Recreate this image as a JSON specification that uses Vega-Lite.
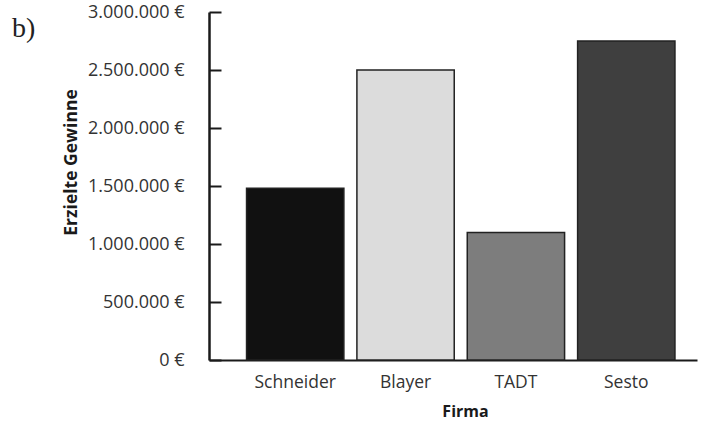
{
  "$schema": "https://vega.github.io/schema/vega-lite/v6.json",
  "width": 488,
  "height": 348,
  "autosize": {"type": "none"},
  "padding": {"left": 209, "top": 12, "right": 5, "bottom": 61},
  "background": "white",
  "title": {
    "text": "b)",
    "anchor": "start",
    "frame": "group",
    "orient": "top",
    "font": "Liberation Serif",
    "fontSize": 28,
    "fontWeight": "normal",
    "color": "#222222",
    "baseline": "alphabetic",
    "offset": 0,
    "dx": -197,
    "dy": 62
  },
  "config": {
    "locale": {
      "number": {
        "decimal": ",",
        "thousands": ".",
        "grouping": [3],
        "currency": ["", " €"]
      }
    },
    "view": {"stroke": null},
    "axis": {
      "labelFont": "Open Sans",
      "titleFont": "Open Sans",
      "labelColor": "#333333",
      "titleColor": "#1a1a1a",
      "grid": false
    }
  },
  "data": {
    "values": [
      {"Firma": "Schneider", "Gewinn": 1480000},
      {"Firma": "Blayer", "Gewinn": 2500000},
      {"Firma": "TADT", "Gewinn": 1100000},
      {"Firma": "Sesto", "Gewinn": 2750000}
    ]
  },
  "mark": {"type": "bar", "stroke": "#222222", "strokeWidth": 1.5},
  "encoding": {
    "x": {
      "field": "Firma",
      "type": "nominal",
      "sort": null,
      "scale": {"paddingInner": 0.118, "paddingOuter": 0.27, "align": 0.63},
      "axis": {
        "title": "Firma",
        "titleFontSize": 16,
        "titleFontWeight": "bold",
        "titleX": 256,
        "titleY": 43,
        "labelAngle": 0,
        "labelFontSize": 17.5,
        "labelPadding": 13,
        "ticks": false,
        "domainColor": "#1a1a1a",
        "domainWidth": 2
      }
    },
    "y": {
      "field": "Gewinn",
      "type": "quantitative",
      "scale": {"domain": [0, 3000000], "nice": false},
      "axis": {
        "title": "Erzielte Gewinne",
        "titleFontSize": 17.5,
        "titleFontWeight": "bold",
        "titleX": -129,
        "titleY": 150,
        "values": [0, 500000, 1000000, 1500000, 2000000, 2500000, 3000000],
        "format": "$,.0f",
        "labelFontSize": 18,
        "tickSize": -12,
        "tickWidth": 2,
        "tickColor": "#1a1a1a",
        "labelPadding": 37,
        "domainColor": "#1a1a1a",
        "domainWidth": 2.5
      }
    },
    "color": {
      "field": "Firma",
      "type": "nominal",
      "scale": {
        "domain": ["Schneider", "Blayer", "TADT", "Sesto"],
        "range": ["#111111", "#dcdcdc", "#7d7d7d", "#3f3f3f"]
      },
      "legend": null
    }
  }
}
